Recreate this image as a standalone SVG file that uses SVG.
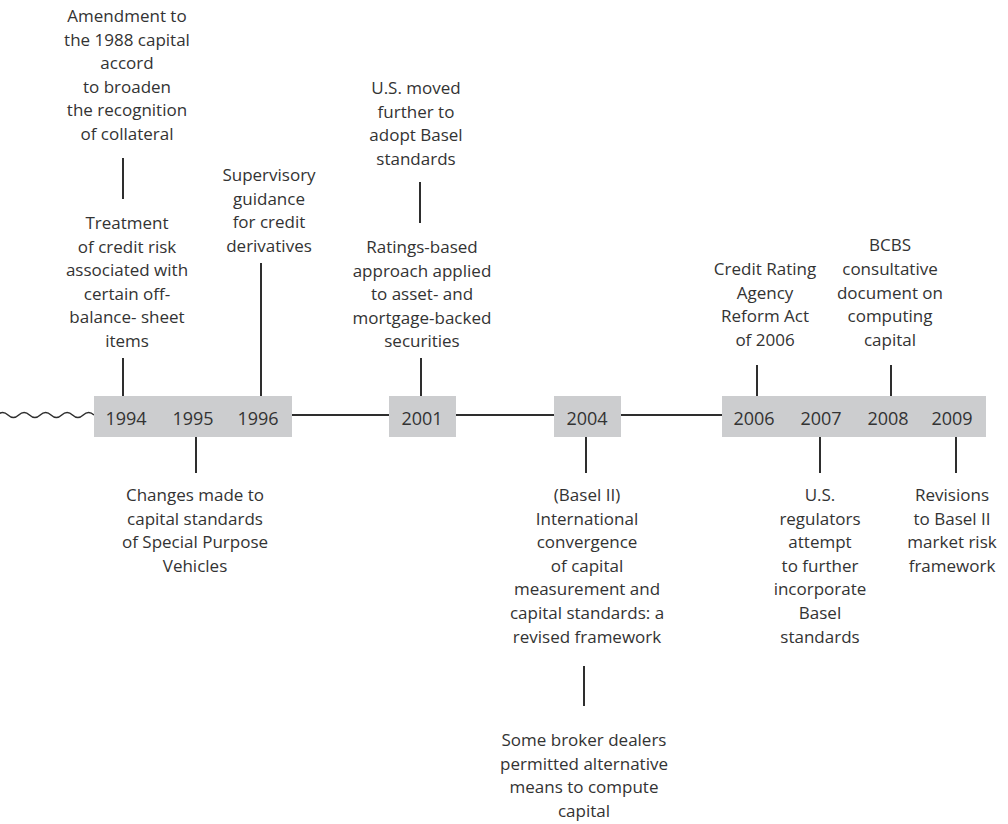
<svg xmlns="http://www.w3.org/2000/svg" width="1008" height="824" viewBox="0 0 1008 824">
  <style>
    .lbl { font-family: "Open Sans", "Liberation Sans", sans-serif; font-size: 17px; fill: #333333; text-anchor: middle; }
    .yr { font-family: "Open Sans", "Liberation Sans", sans-serif; font-size: 18px; fill: #333333; text-anchor: middle; }
    .box { fill: #cccdcf; }
    .ln { stroke: #2e2e2e; stroke-width: 2; fill: none; }
    .wave { stroke: #2e2e2e; stroke-width: 1.5; fill: none; }
  </style>
  <rect width="1008" height="824" fill="#ffffff"/>

  <!-- connectors: axis, wavy lead-in and ticks -->
  <g id="connectors">
    <path class="wave" d="M-2.75,415 q5.375,-5 10.75,0 t10.75,0 t10.75,0 t10.75,0 t10.75,0 t10.75,0 t10.75,0 t10.75,0 t10.75,0"/>
    <line class="ln" x1="292" y1="415" x2="389" y2="415"/>
    <line class="ln" x1="456" y1="415" x2="554" y2="415"/>
    <line class="ln" x1="621" y1="415" x2="722" y2="415"/>
    <!-- 1994 -->
    <line class="ln" x1="123" y1="158" x2="123" y2="199"/>
    <line class="ln" x1="123" y1="358" x2="123" y2="396"/>
    <!-- 1995 -->
    <line class="ln" x1="196" y1="437" x2="196" y2="473"/>
    <!-- 1996 -->
    <line class="ln" x1="261" y1="263" x2="261" y2="396"/>
    <!-- 2001 -->
    <line class="ln" x1="420" y1="182" x2="420" y2="223"/>
    <line class="ln" x1="421" y1="358" x2="421" y2="396"/>
    <!-- 2004 -->
    <line class="ln" x1="586" y1="437" x2="586" y2="473"/>
    <line class="ln" x1="584" y1="666" x2="584" y2="706"/>
    <!-- 2006 / 2008 -->
    <line class="ln" x1="757" y1="365" x2="757" y2="396"/>
    <line class="ln" x1="891" y1="365" x2="891" y2="396"/>
    <!-- 2007 / 2009 -->
    <line class="ln" x1="820" y1="437" x2="820" y2="473"/>
    <line class="ln" x1="956" y1="437" x2="956" y2="473"/>
  </g>

  <!-- year bars -->
  <g id="years-1994-1996">
    <rect class="box" x="94" y="396" width="198" height="41"/>
    <text class="yr" x="126" y="425">1994</text>
    <text class="yr" x="193" y="425">1995</text>
    <text class="yr" x="258" y="425">1996</text>
  </g>
  <g id="year-2001">
    <rect class="box" x="389" y="396" width="67" height="41"/>
    <text class="yr" x="422" y="425">2001</text>
  </g>
  <g id="year-2004">
    <rect class="box" x="554" y="396" width="67" height="41"/>
    <text class="yr" x="587" y="425">2004</text>
  </g>
  <g id="years-2006-2009">
    <rect class="box" x="722" y="396" width="264" height="41"/>
    <text class="yr" x="754" y="425">2006</text>
    <text class="yr" x="821" y="425">2007</text>
    <text class="yr" x="888" y="425">2008</text>
    <text class="yr" x="952" y="425">2009</text>
  </g>

  <!-- events above the axis -->
  <g id="event-1994-amendment">
    <text class="lbl" x="127" y="22">Amendment to</text>
    <text class="lbl" x="127" y="45.6">the 1988 capital</text>
    <text class="lbl" x="127" y="69.2">accord</text>
    <text class="lbl" x="127" y="92.8">to broaden</text>
    <text class="lbl" x="127" y="116.4">the recognition</text>
    <text class="lbl" x="127" y="140">of collateral</text>
  </g>
  <g id="event-1994-treatment">
    <text class="lbl" x="127" y="229">Treatment</text>
    <text class="lbl" x="127" y="252.6">of credit risk</text>
    <text class="lbl" x="127" y="276.2">associated with</text>
    <text class="lbl" x="127" y="299.8">certain off-</text>
    <text class="lbl" x="127" y="323.4">balance- sheet</text>
    <text class="lbl" x="127" y="347">items</text>
  </g>
  <g id="event-1996">
    <text class="lbl" x="269" y="181">Supervisory</text>
    <text class="lbl" x="269" y="204.6">guidance</text>
    <text class="lbl" x="269" y="228.2">for credit</text>
    <text class="lbl" x="269" y="251.8">derivatives</text>
  </g>
  <g id="event-2001-us">
    <text class="lbl" x="416" y="94">U.S. moved</text>
    <text class="lbl" x="416" y="117.6">further to</text>
    <text class="lbl" x="416" y="141.2">adopt Basel</text>
    <text class="lbl" x="416" y="164.8">standards</text>
  </g>
  <g id="event-2001-ratings">
    <text class="lbl" x="422" y="253">Ratings-based</text>
    <text class="lbl" x="422" y="276.6">approach applied</text>
    <text class="lbl" x="422" y="300.2">to asset- and</text>
    <text class="lbl" x="422" y="323.8">mortgage-backed</text>
    <text class="lbl" x="422" y="347.4">securities</text>
  </g>
  <g id="event-2006">
    <text class="lbl" x="765" y="275">Credit Rating</text>
    <text class="lbl" x="765" y="298.6">Agency</text>
    <text class="lbl" x="765" y="322.2">Reform Act</text>
    <text class="lbl" x="765" y="345.8">of 2006</text>
  </g>
  <g id="event-2008">
    <text class="lbl" x="890" y="251.4">BCBS</text>
    <text class="lbl" x="890" y="275">consultative</text>
    <text class="lbl" x="890" y="298.6">document on</text>
    <text class="lbl" x="890" y="322.2">computing</text>
    <text class="lbl" x="890" y="345.8">capital</text>
  </g>

  <!-- events below the axis -->
  <g id="event-1995">
    <text class="lbl" x="195" y="501">Changes made to</text>
    <text class="lbl" x="195" y="524.6">capital standards</text>
    <text class="lbl" x="195" y="548.2">of Special Purpose</text>
    <text class="lbl" x="195" y="571.8">Vehicles</text>
  </g>
  <g id="event-2004-basel">
    <text class="lbl" x="587" y="501">(Basel II)</text>
    <text class="lbl" x="587" y="524.6">International</text>
    <text class="lbl" x="587" y="548.2">convergence</text>
    <text class="lbl" x="587" y="571.8">of capital</text>
    <text class="lbl" x="587" y="595.4">measurement and</text>
    <text class="lbl" x="587" y="619">capital standards: a</text>
    <text class="lbl" x="587" y="642.6">revised framework</text>
  </g>
  <g id="event-2004-brokers">
    <text class="lbl" x="584" y="746">Some broker dealers</text>
    <text class="lbl" x="584" y="769.6">permitted alternative</text>
    <text class="lbl" x="584" y="793.2">means to compute</text>
    <text class="lbl" x="584" y="816.8">capital</text>
  </g>
  <g id="event-2007">
    <text class="lbl" x="820" y="501">U.S.</text>
    <text class="lbl" x="820" y="524.6">regulators</text>
    <text class="lbl" x="820" y="548.2">attempt</text>
    <text class="lbl" x="820" y="571.8">to further</text>
    <text class="lbl" x="820" y="595.4">incorporate</text>
    <text class="lbl" x="820" y="619">Basel</text>
    <text class="lbl" x="820" y="642.6">standards</text>
  </g>
  <g id="event-2009">
    <text class="lbl" x="952" y="501">Revisions</text>
    <text class="lbl" x="952" y="524.6">to Basel II</text>
    <text class="lbl" x="952" y="548.2">market risk</text>
    <text class="lbl" x="952" y="571.8">framework</text>
  </g>
</svg>
